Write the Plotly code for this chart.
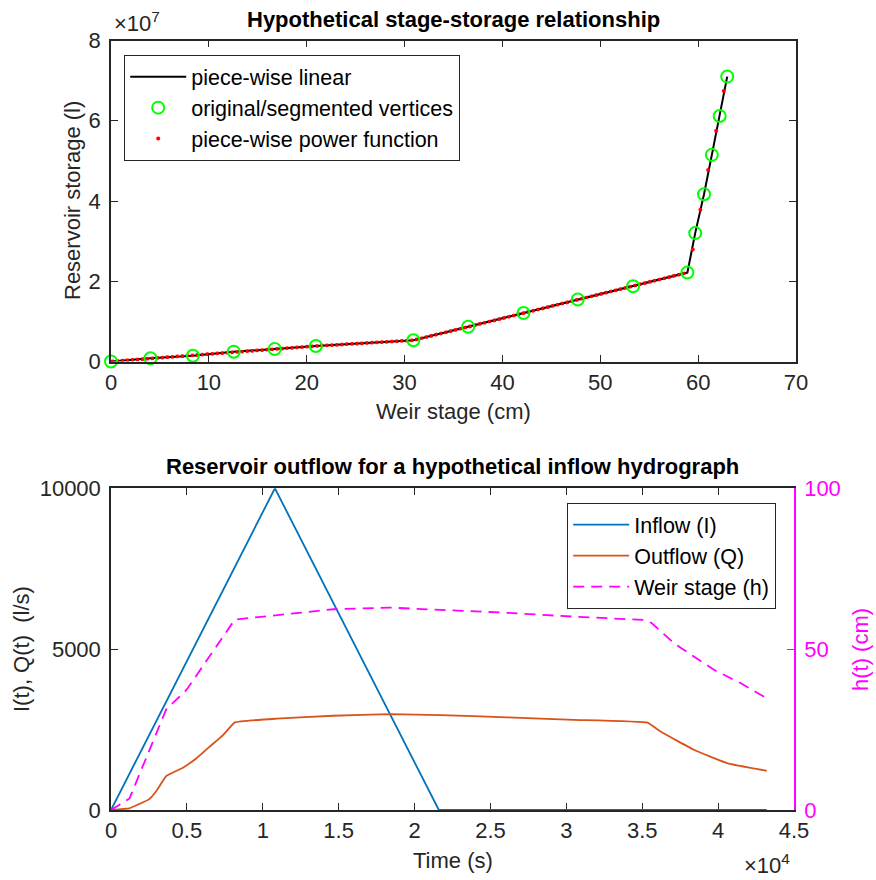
import plotly.graph_objects as go

# ---------------- Data: top panel (stage-storage) ----------------
stage_cm = [0, 4.04, 8.37, 12.54, 16.73, 20.93, 30.9, 36.5, 42.15, 47.7, 53.35,
            58.9, 59.7, 60.6, 61.4, 62.2, 62.97]
storage_l = [0, 0.08e7, 0.144e7, 0.243e7, 0.31e7, 0.385e7, 0.53e7, 0.865e7, 1.21e7,
             1.545e7, 1.876e7, 2.216e7, 3.2e7, 4.17e7, 5.15e7, 6.12e7, 7.1e7]
# red power-function samples in the steep part
power_stage_steep = [59.45, 60.23, 61.02, 61.84, 62.62]
power_storage_steep = [2.79e7, 3.78e7, 4.77e7, 5.75e7, 6.74e7]
n_flat = 12  # vertices in the gently-sloped part (dense power-function dots)

# ---------------- Data: bottom panel (hydrograph) ----------------
inflow_t = [0, 10800, 21600, 43200]
inflow_q = [0, 10000, 0, 0]

outflow_t = [0, 1200, 2500, 3000, 3640, 4740, 5630, 6500, 7380, 8160, 10900, 14650,
             18400, 21700, 26100, 30500, 35350, 36230, 38430, 40630, 43200]
outflow_q = [0, 50, 330, 600, 1057, 1315, 1607, 1970, 2330, 2725, 2840, 2930,
             2978, 2950, 2880, 2800, 2715, 2430, 1865, 1450, 1220]

stage_t = [0, 1220, 3640, 4970, 8160, 10900, 14650, 18400, 21700, 26100, 30500,
           35100, 35600, 37100, 39750, 41500, 43200]
stage_h = [0, 3.6, 31.3, 37.3, 59.2, 60.6, 62.4, 62.9, 62.2, 61.3, 60.1,
           59.1, 58.2, 51.8, 43.5, 39.4, 34.7]

top_xticks = [0, 10, 20, 30, 40, 50, 60, 70]
top_yticks = [0, 2e7, 4e7, 6e7, 8e7]
top_yticktext = ["0", "2", "4", "6", "8"]
bot_xticks = [0, 5000, 10000, 15000, 20000, 25000, 30000, 35000, 40000, 45000]
bot_xticktext = ["0", "0.5", "1", "1.5", "2", "2.5", "3", "3.5", "4", "4.5"]

# ---------------- Figure ----------------
W, H = 876, 880
AX = "#262626"
MAG = "#FF00FF"
FONT = "Liberation Sans, Arial, Helvetica, sans-serif"
TICK = 22
LAB = 22
LEG = 21.5

def px(x):
    return x / W

def py(y):
    return 1 - y / H

fig = go.Figure()

# top panel
fig.add_trace(go.Scatter(x=stage_cm, y=storage_l, mode="lines", name="piece-wise linear",
                         line=dict(color="black", width=2), xaxis="x", yaxis="y",
                         legend="legend"))
fig.add_trace(go.Scatter(x=stage_cm[:n_flat], y=storage_l[:n_flat], mode="lines",
                         line=dict(color="red", width=3.5, dash="3px,2px"),
                         showlegend=False, xaxis="x", yaxis="y", hoverinfo="skip"))
fig.add_trace(go.Scatter(x=stage_cm, y=storage_l, mode="markers",
                         name="original/segmented vertices",
                         marker=dict(symbol="circle-open", size=12, color="#00FF00",
                                     line=dict(width=2, color="#00FF00")),
                         cliponaxis=False, xaxis="x", yaxis="y", legend="legend"))
fig.add_trace(go.Scatter(x=power_stage_steep, y=power_storage_steep, mode="markers",
                         name="piece-wise power function",
                         marker=dict(symbol="circle", size=4, color="red"),
                         xaxis="x", yaxis="y", legend="legend"))

# bottom panel
fig.add_trace(go.Scatter(x=inflow_t, y=inflow_q, mode="lines", name="Inflow (I)",
                         line=dict(color="#0072BD", width=1.8), cliponaxis=False,
                         xaxis="x2", yaxis="y2", legend="legend2"))
fig.add_trace(go.Scatter(x=outflow_t, y=outflow_q, mode="lines", name="Outflow (Q)",
                         line=dict(color="#D95319", width=1.8, shape="spline", smoothing=0.25),
                         xaxis="x2", yaxis="y2", legend="legend2"))
fig.add_trace(go.Scatter(x=stage_t, y=stage_h, mode="lines", name="Weir stage (h)",
                         line=dict(color=MAG, width=1.8, dash="11px,7px"),
                         xaxis="x2", yaxis="y3", legend="legend2"))

axis_common = dict(showgrid=False, zeroline=False, showline=True, linecolor=AX,
                   linewidth=1.5, ticks="inside", ticklen=7, tickwidth=1.2,
                   tickcolor=AX, automargin=False,
                   tickfont=dict(size=TICK, color=AX, family=FONT))

fig.update_layout(
    width=W, height=H, margin=dict(l=0, r=0, t=0, b=0, autoexpand=False),
    plot_bgcolor="white", paper_bgcolor="white",
    font=dict(family=FONT, size=TICK, color=AX),
    xaxis=dict(domain=[px(111), px(796)], anchor="y", range=[0, 70],
               tickvals=top_xticks, mirror="ticks", **axis_common),
    yaxis=dict(domain=[py(361.5), py(40.5)], anchor="x", range=[0, 8e7],
               tickvals=top_yticks, ticktext=top_yticktext, mirror="ticks",
               ticklabelstandoff=4, **axis_common),
    xaxis2=dict(domain=[px(111), px(794)], anchor="y2", range=[0, 45000],
                tickvals=bot_xticks, ticktext=bot_xticktext, mirror="ticks",
                layer="below traces", **axis_common),
    yaxis2=dict(domain=[py(810), py(488.3)], anchor="x2", range=[0, 10000],
                tickvals=[0, 5000, 10000], ticktext=["0", "5000", "10000"],
                mirror=False, ticklabelstandoff=4, **axis_common),
    yaxis3=dict(overlaying="y2", side="right", anchor="x2", range=[0, 100],
                tickvals=[0, 50, 100], showgrid=False, zeroline=False, showline=True,
                linecolor=MAG, linewidth=1.5, ticks="inside", ticklen=7, tickwidth=1.2,
                tickcolor=MAG, automargin=False,
                tickfont=dict(size=TICK, color=MAG, family=FONT),
                ticklabelstandoff=4),
    legend=dict(x=px(124), y=py(55), xanchor="left", yanchor="top",
                bgcolor="white", bordercolor=AX, borderwidth=1.2,
                font=dict(size=LEG, color="black", family=FONT),
                tracegroupgap=0, itemwidth=56),
    legend2=dict(x=px(567), y=py(503), xanchor="left", yanchor="top",
                 bgcolor="white", bordercolor=AX, borderwidth=1.2,
                 font=dict(size=LEG, color="black", family=FONT),
                 tracegroupgap=0, itemwidth=56),
)

ann = [
    dict(text="<b>Hypothetical stage-storage relationship</b>", x=px(453.5), y=py(19),
         font=dict(size=LAB, color="black")),
    dict(text="<b>Reservoir outflow for a hypothetical inflow hydrograph</b>",
         x=px(452.5), y=py(467), font=dict(size=LAB, color="black")),
    dict(text="Weir stage (cm)", x=px(453.5), y=py(411), font=dict(size=LAB, color=AX)),
    dict(text="Time (s)", x=px(452.5), y=py(860), font=dict(size=LAB, color=AX)),
    dict(text="Reservoir storage (l)", x=px(72), y=py(201), textangle=-90,
         font=dict(size=LAB, color=AX)),
    dict(text="I(t), Q(t)  (l/s)", x=px(21), y=py(649), textangle=-90,
         font=dict(size=LAB, color=AX)),
    dict(text="h(t) (cm)", x=px(860), y=py(650), textangle=-90,
         font=dict(size=LAB, color=MAG)),
    dict(text="\u00d710<sup>7</sup>", x=px(112), y=py(22), xanchor="left",
         font=dict(size=TICK, color=AX)),
    dict(text="\u00d710<sup>4</sup>", x=px(792), y=py(864), xanchor="right",
         font=dict(size=TICK, color=AX)),
]
for a in ann:
    a.setdefault("xanchor", "center")
    a.update(xref="paper", yref="paper", showarrow=False, yanchor="middle")
    a["font"].setdefault("family", FONT)
    fig.add_annotation(**a)

# remove the default 8px page margin so the figure starts at the window's corner
fig.write_html("out.html", config={"displayModeBar": False},
               post_script="document.body.style.margin='0px';document.body.style.padding='0px';")
